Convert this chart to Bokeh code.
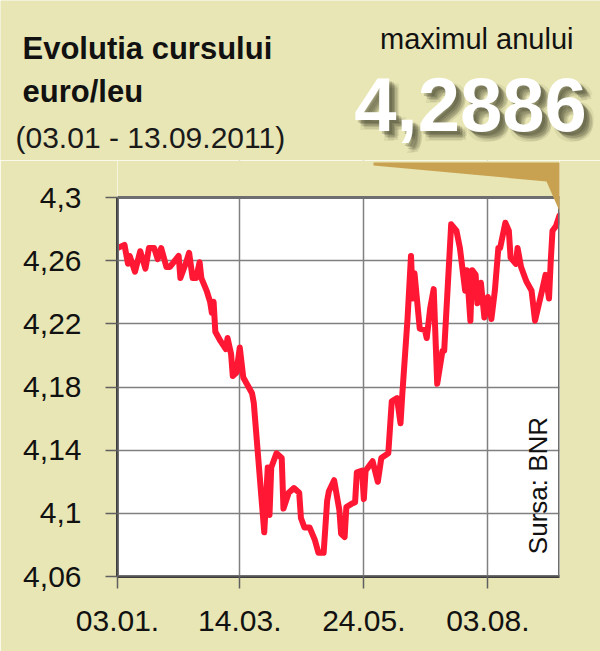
import math
import pandas as pd
from bokeh.plotting import figure
from bokeh.layouts import column
from bokeh.models import (FixedTicker, CustomJSTickFormatter, DatetimeTickFormatter,
                          Label, PolyAnnotation, BoxAnnotation, Range1d)
from bokeh.embed import file_html
from bokeh.resources import INLINE

# ---------------- data ----------------
dates = [
    "2011-01-03", "2011-01-07", "2011-01-09", "2011-01-10", "2011-01-13", "2011-01-16",
    "2011-01-19", "2011-01-21", "2011-01-24", "2011-01-26", "2011-01-28", "2011-01-31",
    "2011-02-02", "2011-02-07", "2011-02-08", "2011-02-11", "2011-02-13", "2011-02-15",
    "2011-02-17", "2011-02-19", "2011-02-20", "2011-02-23", "2011-02-25", "2011-02-26",
    "2011-02-27", "2011-02-28", "2011-03-03", "2011-03-06", "2011-03-07", "2011-03-09",
    "2011-03-10", "2011-03-12", "2011-03-14", "2011-03-16", "2011-03-21", "2011-03-22",
    "2011-03-28", "2011-03-30", "2011-03-31", "2011-04-01", "2011-04-04", "2011-04-07",
    "2011-04-08", "2011-04-11", "2011-04-14", "2011-04-17", "2011-04-18", "2011-04-20",
    "2011-04-23", "2011-04-26", "2011-04-28", "2011-05-01", "2011-05-03", "2011-05-04",
    "2011-05-07", "2011-05-10", "2011-05-11", "2011-05-13", "2011-05-14", "2011-05-17",
    "2011-05-19", "2011-05-20", "2011-05-23", "2011-05-24", "2011-05-25", "2011-05-29",
    "2011-06-01", "2011-06-03", "2011-06-07", "2011-06-09", "2011-06-12", "2011-06-14",
    "2011-06-15", "2011-06-18", "2011-06-20", "2011-06-21", "2011-06-22", "2011-06-25",
    "2011-06-28", "2011-06-29", "2011-07-01", "2011-07-03", "2011-07-05", "2011-07-08",
    "2011-07-09", "2011-07-13", "2011-07-16", "2011-07-18", "2011-07-21", "2011-07-22",
    "2011-07-24", "2011-07-25", "2011-07-27", "2011-07-28", "2011-07-30", "2011-08-01",
    "2011-08-03", "2011-08-05", "2011-08-07", "2011-08-09", "2011-08-10", "2011-08-13",
    "2011-08-15", "2011-08-16", "2011-08-19", "2011-08-20", "2011-08-22", "2011-08-25",
    "2011-08-28", "2011-08-30", "2011-09-03", "2011-09-05", "2011-09-07", "2011-09-08",
    "2011-09-09", "2011-09-11", "2011-09-13",
]
rates = [
    4.268, 4.270, 4.258, 4.263, 4.253, 4.266,
    4.255, 4.268, 4.268, 4.261, 4.268, 4.256,
    4.256, 4.263, 4.249, 4.258, 4.265, 4.249,
    4.249, 4.259, 4.249, 4.241, 4.234, 4.227,
    4.234, 4.215, 4.209, 4.204, 4.211, 4.201,
    4.187, 4.189, 4.205, 4.186, 4.176, 4.170,
    4.088, 4.129, 4.099, 4.129, 4.138, 4.135,
    4.103, 4.113, 4.116, 4.113, 4.097, 4.091,
    4.091, 4.083, 4.075, 4.075, 4.108, 4.114,
    4.121, 4.102, 4.087, 4.085, 4.104, 4.106,
    4.107, 4.126, 4.127, 4.109, 4.127, 4.133,
    4.120, 4.135, 4.138, 4.171, 4.173, 4.157,
    4.175, 4.223, 4.263, 4.236, 4.252, 4.217,
    4.216, 4.211, 4.230, 4.242, 4.182, 4.203,
    4.203, 4.283, 4.279, 4.268, 4.241, 4.254,
    4.222, 4.254, 4.251, 4.233, 4.246, 4.224,
    4.237, 4.223, 4.241, 4.268, 4.268, 4.284,
    4.279, 4.262, 4.258, 4.268, 4.256, 4.247,
    4.241, 4.222, 4.241, 4.251, 4.236, 4.260,
    4.279, 4.282, 4.2886,
]
x_tick_dates = ["2011-01-03", "2011-03-14", "2011-05-24", "2011-08-03"]
y_ticks = [4.06, 4.10, 4.14, 4.18, 4.22, 4.26, 4.30]
title_lines = ["Evolutia cursului", "euro/leu"]
period_text = "(03.01 - 13.09.2011)"
max_caption = "maximul anului"
max_value = 4.2886
source_text = "Sursa: BNR"

# ---------------- styles / layout ----------------
BG = "#e8e6b4"
RED = "#ff1733"
TAN = "#c9a251"
SANS = "'Liberation Sans', Arial, sans-serif"
W, H = 600, 651
HEAD_H = 160          # header strip height
PLOT_H = 379          # pixel height of the 4.06 .. 4.30 plotting area
EXTRA = 37            # frame space above 4.30 (holds the callout tip)
BOTTOM = 75

# ---------------- header (titles, big number) ----------------
head = figure(width=W, height=HEAD_H, output_backend="svg", toolbar_location=None,
              title=None, x_range=Range1d(0, W), y_range=Range1d(0, HEAD_H),
              min_border=0, x_axis_location=None, y_axis_location=None)
head.frame_align = False
head.grid.visible = False
head.outline_line_color = None
head.background_fill_color = BG
head.border_fill_color = BG


def head_label(x, y_from_top, text, size, bold=False, align="left", color="#111111", alpha=1.0):
    head.add_layout(Label(x=x, y=HEAD_H - y_from_top, text=text, text_font=SANS,
                          text_font_style="bold" if bold else "normal",
                          text_font_size=f"{size}px", text_align=align,
                          text_color=color, text_alpha=alpha, text_baseline="middle"))


head_label(22, 48, title_lines[0], 31, bold=True)
head_label(22, 91, title_lines[1], 31, bold=True)
head_label(15, 137, period_text, 30, color="#1a1a1a")
head_label(573, 38, max_caption, 29, align="right")

max_text = f"{max_value:.4f}".replace(".", ",")
for dx, dy, a in [(9, 9, 0.10), (8, 7, 0.14), (6, 6, 0.18), (5, 4, 0.22), (3, 3, 0.25),
                  (10, 5, 0.08), (5, 10, 0.08)]:
    head_label(470 + dx, 104 + dy, max_text, 76, bold=True, align="center",
               color="#3a3a26", alpha=a)
head_label(470, 104, max_text, 76, bold=True, align="center", color="white")

# ---------------- main chart ----------------
xs = pd.to_datetime(dates)
y_lo, y_hi = y_ticks[0], y_ticks[-1]
y_top = y_hi + (y_hi - y_lo) * EXTRA / PLOT_H

p = figure(width=W, height=H - HEAD_H, output_backend="svg", toolbar_location=None,
           title=None, x_axis_type="datetime",
           x_range=Range1d(xs[0], xs[-1]), y_range=Range1d(y_lo, y_top),
           min_border_left=117, min_border_right=41, min_border_top=0,
           min_border_bottom=BOTTOM)
p.frame_align = False
p.border_fill_color = BG
p.background_fill_color = "white"
p.outline_line_color = None

p.line(xs, rates, line_color=RED, line_width=6, line_join="round", line_cap="round")

x_ms = [pd.Timestamp(d).value // 10**6 for d in x_tick_dates]
p.xaxis.ticker = FixedTicker(ticks=x_ms)
fmt = "%d.%m."
p.xaxis.formatter = DatetimeTickFormatter(
    microseconds=fmt, milliseconds=fmt, seconds=fmt, minsec=fmt, minutes=fmt,
    hourmin=fmt, hours=fmt, days=fmt, months=fmt, years=fmt)
p.yaxis.ticker = FixedTicker(ticks=y_ticks)
p.yaxis.formatter = CustomJSTickFormatter(
    code="return tick.toFixed(2).replace(/0$/, '').replace('.', ',');")
p.yaxis.bounds = (y_lo, y_hi)

for ax in (p.xaxis, p.yaxis):
    ax.axis_line_color = "#3c3c3c"
    ax.axis_line_width = 3
    ax.major_tick_line_color = "#606060"
    ax.major_tick_line_width = 1.5
    ax.major_tick_out = 12
    ax.major_tick_in = 0
    ax.minor_tick_line_color = None
    ax.major_label_text_font = SANS
    ax.major_label_text_color = "#111111"

p.yaxis.major_label_text_font_size = "30px"
p.yaxis.major_label_standoff = 24
p.xaxis.major_label_text_font_size = "30px"
p.xaxis.major_label_standoff = 22

p.xgrid.grid_line_color = "#808080"
p.ygrid.grid_line_color = "#808080"
p.xgrid.grid_line_width = 1.5
p.ygrid.grid_line_width = 1.5

# background strip above the plotting area and the plotting-area border
p.add_layout(BoxAnnotation(bottom=y_hi, fill_color=BG, fill_alpha=1.0, line_color=None))
p.add_layout(BoxAnnotation(bottom=y_lo, top=y_hi, fill_alpha=0.0,
                           line_color="#6e6e6e", line_width=3, line_alpha=1.0))

# callout pointing to the year maximum (screen units from frame bottom-left)
p.add_layout(PolyAnnotation(xs=[256, 462, 443, 429, 256], ys=[414, 414, 363, 395, 411],
                            xs_units="screen", ys_units="screen",
                            fill_color=TAN, fill_alpha=1.0, line_color=None))

p.add_layout(Label(x=420, y=91, x_units="screen", y_units="screen", text=source_text,
                   angle=math.pi / 2, text_font=SANS, text_font_size="26px",
                   text_align="center", text_baseline="middle", text_color="#111111"))

layout = column(head, p, spacing=0)
open("out.html", "w").write(file_html(layout, INLINE))
